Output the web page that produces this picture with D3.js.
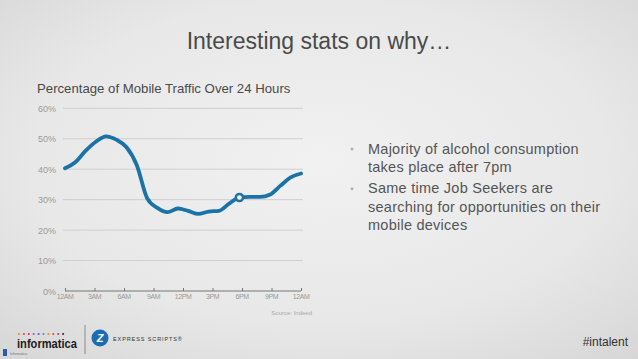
<!DOCTYPE html>
<html><head><meta charset="utf-8">
<script src="https://cdn.jsdelivr.net/npm/d3@7"></script>
<style>html,body{margin:0;padding:0;overflow:hidden;}svg{display:block;}</style>
</head><body>
<script>
// ---- data ----
const hourIndex = d3.range(24);
const trafficPct = [40.3, 42.3, 46.0, 49.0, 50.8, 49.7, 47.2, 41.3, 30.5, 27.3, 25.9, 27.1, 26.3, 25.3, 26.1, 26.3, 28.7, 30.7, 30.9, 30.9, 31.7, 34.6, 37.3, 38.6];
const markerIndex = 17;
const xTickLabels = ["12AM","3AM","6AM","9AM","12PM","3PM","6PM","9PM","12AM"];
const yTicks = [0,10,20,30,40,50,60];
const bullets = [
  ["Majority of alcohol consumption", "takes place after 7pm"],
  ["Same time Job Seekers are", "searching for opportunities on their", "mobile devices"]
];
const logoDots = ["#f28c28","#e94e3c","#d6336c","#9b59b6","#6a5acd","#5b8bd6","#f28c28","#e94e3c","#d6336c","#333"];

const W = 638, H = 359;
const svg = d3.select("body").append("svg").attr("width", W).attr("height", H);
const defs = svg.append("defs");
const rg = defs.append("radialGradient").attr("id","bg").attr("cx","50%").attr("cy","45%").attr("r","75%");
rg.append("stop").attr("offset","0%").attr("stop-color","#f1f1f1");
rg.append("stop").attr("offset","60%").attr("stop-color","#e8e8e8");
rg.append("stop").attr("offset","100%").attr("stop-color","#d6d6d6");
svg.append("rect").attr("width",W).attr("height",H).attr("fill","url(#bg)");

const font = "Liberation Sans, Arial, Helvetica, sans-serif";

// Title
svg.append("text").attr("x",319).attr("y",49).attr("text-anchor","middle")
  .attr("font-family",font).attr("font-size",23).attr("fill","#4a4a4a")
  .text("Interesting stats on why…");

// Chart title
svg.append("text").attr("x",37).attr("y",93)
  .attr("font-family",font).attr("font-size",13.2).attr("fill","#4a4a4a")
  .text("Percentage of Mobile Traffic Over 24 Hours");

// scales
const x0 = 65, x1 = 301;
const x = d3.scaleLinear().domain([0,23]).range([x0,x1]);
const xt = d3.scalePoint().domain(xTickLabels.map((d,i)=>i)).range([x0,x1]);
const y = d3.scaleLinear().domain([0,60]).range([291,108.3]);

// gridlines
svg.append("g").selectAll("line").data(yTicks.filter(d=>d>0)).join("line")
  .attr("x1",63).attr("x2",303).attr("y1",d=>y(d)).attr("y2",d=>y(d))
  .attr("stroke","#cfcfcf").attr("stroke-width",1);

// y labels
svg.append("g").selectAll("text").data(yTicks).join("text")
  .attr("x",56).attr("y",d=>y(d)+3.5).attr("text-anchor","end")
  .attr("font-family",font).attr("font-size",9).attr("fill","#999")
  .text(d=>d+"%");

// x axis
const xAxis = d3.axisTop(xt).tickSize(3).tickFormat(()=> "");
const gx = svg.append("g").attr("transform","translate(0,291)").call(xAxis);
gx.select(".domain").attr("stroke","#777").attr("d",`M${x0},0H${x1}`);
gx.selectAll(".tick line").attr("stroke","#777");
svg.append("g").selectAll("text").data(xTickLabels).join("text")
  .attr("x",(d,i)=>xt(i)).attr("y",299).attr("text-anchor","middle")
  .attr("font-family",font).attr("font-size",7).attr("letter-spacing",-0.4).attr("fill","#999")
  .text(d=>d);

// Source
svg.append("text").attr("x",312).attr("y",315).attr("text-anchor","end")
  .attr("font-family",font).attr("font-size",6).attr("fill","#aaa").text("Source: Indeed");

// line
const line = d3.line().x((d,i)=>x(hourIndex[i])).y(d=>y(d)).curve(d3.curveMonotoneX);
svg.append("path").datum(trafficPct).attr("d",line).attr("fill","none")
  .attr("stroke","#1b72a6").attr("stroke-width",3.8).attr("stroke-linejoin","round").attr("stroke-linecap","round");
svg.append("circle").attr("cx",x(hourIndex[markerIndex])).attr("cy",y(trafficPct[markerIndex])).attr("r",3.6)
  .attr("fill","#fff").attr("stroke","#1b72a6").attr("stroke-width",2.5);

// bullets
let by = 153.5;
bullets.forEach(b=>{
  svg.append("circle").attr("cx",352).attr("cy",by-4.5).attr("r",1.5).attr("fill","#b0b0b0");
  b.forEach((ln,j)=>{
    svg.append("text").attr("x",368).attr("y",by).attr("font-family",font).attr("font-size",14.5)
      .attr("letter-spacing",0.25).attr("fill","#555").text(ln);
    by += 18.6;
  });
  by += 2.5;
});

// footer logos
const lg = svg.append("g");
lg.selectAll("circle.dot").data(logoDots).join("circle")
  .attr("cx",(d,i)=>19+i*4.9).attr("cy",334).attr("r",1.1).attr("fill",d=>d);
lg.append("text").attr("x",17).attr("y",348).attr("font-family",font).attr("font-weight","bold")
  .attr("font-size",12.5).attr("textLength",60).attr("lengthAdjust","spacingAndGlyphs").attr("fill","#1e1e1e").text("informatica");
lg.append("line").attr("x1",85).attr("x2",85).attr("y1",325).attr("y2",354).attr("stroke","#777").attr("stroke-width",0.8);
lg.append("circle").attr("cx",100).attr("cy",338).attr("r",8.5).attr("fill","#1d6bb3");
lg.append("text").attr("x",100).attr("y",342).attr("text-anchor","middle").attr("font-family",font).attr("font-style","italic")
  .attr("font-weight","bold").attr("font-size",11).attr("fill","#fff").text("Z");
lg.append("text").attr("x",113).attr("y",341).attr("font-family",font).attr("font-size",5.5).attr("letter-spacing",0.9)
  .attr("fill","#333").text("EXPRESS SCRIPTS®");
lg.append("rect").attr("x",3).attr("y",349).attr("width",4).attr("height",7).attr("fill","#2a5da8");
lg.append("text").attr("x",10).attr("y",355).attr("font-family",font).attr("font-size",3.5).attr("fill","#777").text("Informatica");

// hashtag
svg.append("text").attr("x",628).attr("y",346).attr("text-anchor","end")
  .attr("font-family",font).attr("font-size",12).attr("fill","#333").text("#intalent");
</script>
</body></html>
